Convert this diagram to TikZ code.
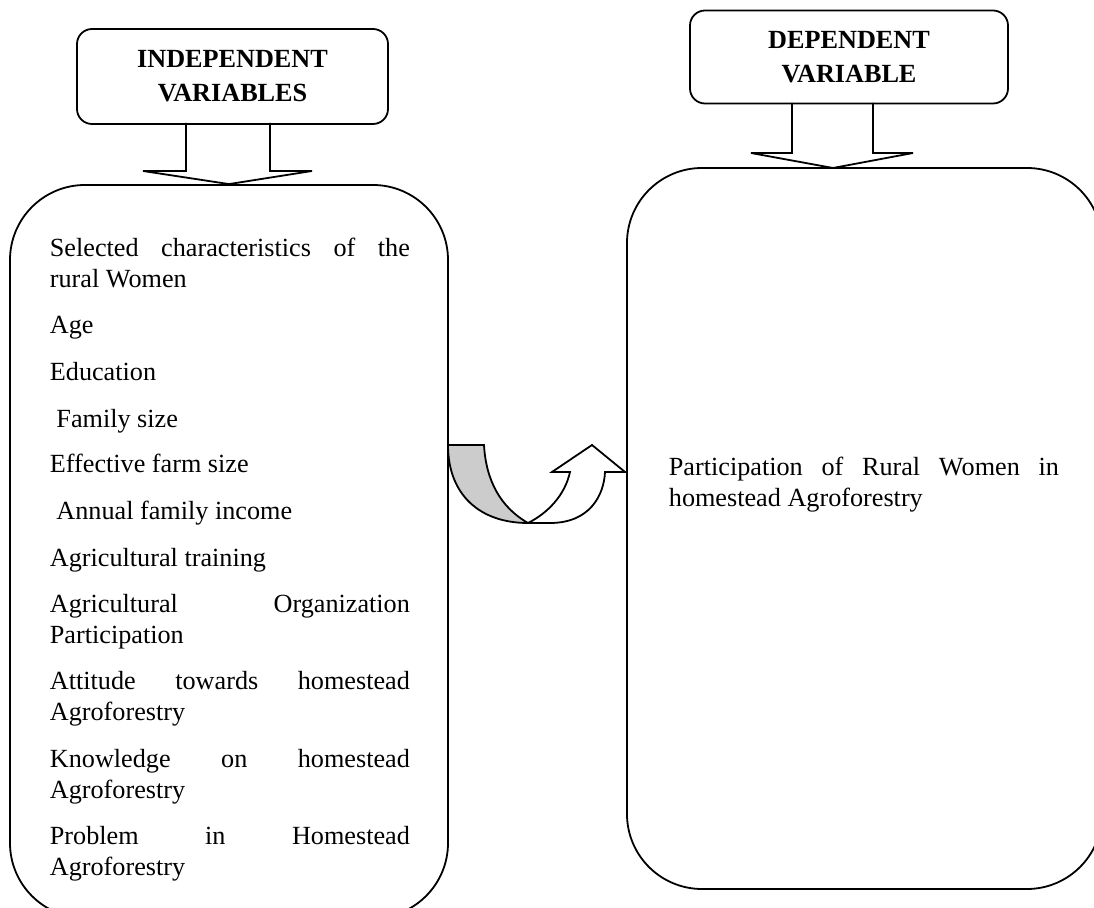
\documentclass[tikz,border=0pt]{standalone}
\usepackage{fontspec}
\setmainfont{Liberation Serif}
\begin{document}
\begin{tikzpicture}[x=0.5pt,y=-0.5pt,line width=0.9pt,
    hdbox/.style={draw,rounded corners=7.5pt,align=center,inner sep=0pt,
      font=\fontsize{13.1}{17}\selectfont\bfseries},
    bigbox/.style={draw,rounded corners=37.5pt,inner sep=0pt},
    varitem/.style={anchor=base west,inner sep=0pt,text width=180pt,align=justify,
      font=\fontsize{13.1}{15.5}\selectfont},
    blockarr/.style={draw,line join=miter}]
    \useasboundingbox (0,0) rectangle (1094,908);
    \clip (0,0) rectangle (1094,908);

    % Header boxes
    \node[hdbox,minimum width=155.5pt,minimum height=47.5pt] (indep) at (232.5,76.5) {INDEPENDENT\\VARIABLES};
    \node[hdbox,minimum width=159pt,minimum height=46.5pt] (dep) at (849,57) {DEPENDENT\\VARIABLE};

    % Big boxes
    \node[bigbox,minimum width=219pt,minimum height=366.5pt] (indepbody) at (229,551.5) {};
    \node[bigbox,minimum width=237.5pt,minimum height=360.5pt] (depbody) at (864.5,528.5) {};

    % Block arrows (header -> box)
    \draw[blockarr] (186,123) -- (186,171) -- (143,171) -- (indepbody.north) -- (312,171) -- (270,171) -- (270,123);
    \draw[blockarr] (792,103) -- (792,153) -- (751,153) -- (833,168) -- (913,153) -- (873,153) -- (873,103);

    % U-turn arrow
    \filldraw[fill=gray!40] (448,445) -- (484,445) .. controls (486,480) and (500,507) .. (528,523)
      .. controls (480,523) and (448,495) .. (448,445) -- cycle;
    \draw (528,523) .. controls (548,513) and (565,495) .. (570,472) -- (552,472) -- (592,445)
      -- (625,472) -- (605,472) .. controls (604,495) and (590,523) .. (550,523) -- (528,523);

    % Independent variables
    \node[varitem] (sel) at (49,257) {Selected characteristics of the\linebreak rural Women};
    \node[varitem] (age) at (49,334) {Age};
    \node[varitem] (edu) at (49,381) {Education};
    \node[varitem] (fam) at (49,428) {\ Family size};
    \node[varitem] (farm) at (49,473) {Effective farm size};
    \node[varitem] (inc) at (49,520) {\ Annual family income};
    \node[varitem] (train) at (49,567) {Agricultural training};
    \node[varitem] (org) at (49,613) {Agricultural Organization\linebreak Participation};
    \node[varitem] (att) at (49,690) {Attitude towards homestead\linebreak Agroforestry};
    \node[varitem] (know) at (49,768) {Knowledge on homestead\linebreak Agroforestry};
    \node[varitem] (prob) at (49,845) {Problem in Homestead\linebreak Agroforestry};

    % Dependent variable
    \node[varitem,text width=195pt] (partic) at (668,476) {Participation of Rural Women in\linebreak homestead Agroforestry};
\end{tikzpicture}
\end{document}
